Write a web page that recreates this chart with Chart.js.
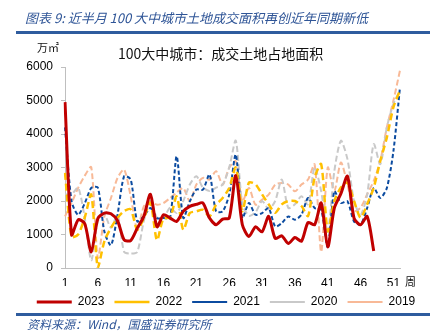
<!DOCTYPE html>
<html>
<head>
<meta charset="utf-8">
<script src="https://cdn.jsdelivr.net/npm/chart.js@4.4.0/dist/chart.umd.min.js"></script>
<style>
  body { margin: 0; background: #fff; }
  #wrap { position: relative; width: 439px; height: 334px; overflow: hidden; font-family: "Noto Sans CJK SC", "Liberation Sans", sans-serif; }
  #plot { position: absolute; left: 0; top: 0; width: 439px; height: 334px; }
  .txt { position: absolute; white-space: nowrap; line-height: 1; }
  .rule { position: absolute; left: 16px; top: 31px; width: 414px; height: 3px; background: #2F5C9E; }
</style>
</head>
<body>
<div id="wrap">
  <div id="plot"><canvas id="chart" width="439" height="334"></canvas></div>
  <div class="rule"></div>
  <div class="rule" style="top:313px;"></div>
  <div class="txt" style="left:25px; top:11px; font-size:13px; font-style:italic; color:#2F5597;">图表 9:  近半月 100 大中城市土地成交面积再创近年同期新低</div>
  <div class="txt" style="left:118px; top:46px; font-size:14px; color:#111;">100大中城市：成交土地占地面积</div>
  <div class="txt" style="left:37px; top:42px; font-size:11px; color:#111;">万㎡</div>
  <div class="txt" style="left:405px; top:276px; font-size:11px; color:#111;">周</div>
  <div class="txt" style="left:27px; top:318px; font-size:12px; font-style:italic; color:#2F5597;">资料来源：Wind，国盛证券研究所</div>
</div>
<script>
const weeks = ['1','2','3','4','5','6','7','8','9','10','11','12','13','14','15','16','17','18','19','20',
  '21','22','23','24','25','26','27','28','29','30','31','32','33','34','35','36','37','38','39','40',
  '41','42','43','44','45','46','47','48','49','50','51','52'];

const s2023 = [4950, 990, 1440, 1330, 480, 1480, 1640, 1620, 1410, 840, 820, 1190, 1540, 2200, 1230, 1590,
  1490, 1390, 1690, 1840, 1900, 1940, 1490, 1290, 1460, 1490, 2760, 1290, 940, 1230, 1080, 1540, 880, 960,
  730, 910, 800, 1360, 1290, 1940, 630, 1790, 2220, 2740, 1490, 1290, 1540, 510];

const s2022 = [2840, 930, 1000, 1500, 2190, 0, 800, 1200, 1500, 1700, 1750, 1140, 1490, 1950, 830, 1490,
  1500, 2140, 1140, 1640, 1690, 1740, 1540, 1890, 2090, 2390, 3000, 1700, 2550, 2500, 2200, 1900, 1650, 1900,
  2000, 2000, 1850, 1550, 2700, 3100, 1100, 2000, 2400, 2550, 2000, 1500, 1900, 2400, 3200, 3900, 4800, 5300];

const s2021 = [4200, 1990, 1590, 1930, 2390, 2400, 1080, 680, 1590, 2740, 2640, 1390, 1540, 1790, 1490, 1490,
  1500, 3340, 1490, 1990, 2340, 2340, 2790, 1690, 1690, 2190, 3390, 1490, 1940, 1590, 1640, 1790, 1240, 1340,
  1540, 1440, 1590, 2090, 1790, 1740, 630, 2290, 1940, 1990, 1390, 1290, 1790, 2390, 2090, 2390, 3490, 5400];

const s2020 = [2200, 2200, 2400, 1500, 230, 1400, 1600, 1200, 1600, 480, 430, 480, 1400, 2000, 1500, 1500,
  1800, 1640, 2000, 2490, 2740, 2400, 2300, 2400, 2490, 3000, 3800, 1900, 1560, 1660, 2000, 1760, 2000, 2640,
  1790, 1900, 2140, 1900, 3000, 2290, 1080, 2890, 3800, 3250, 2000, 1590, 2190, 3700, 3100, 4200, 4900, 5300];

const s2019 = [1540, 1940, 2390, 2750, 3010, 300, 1540, 2090, 2690, 2940, 2140, 1140, 1840, 1990, 1890, 1940,
  2090, 2250, 2390, 1990, 2490, 2690, 2640, 2890, 2490, 2990, 3190, 1990, 2390, 1890, 2040, 2190, 2490, 2540,
  2490, 2290, 2490, 2640, 3090, 480, 3000, 2300, 3150, 2500, 1700, 1800, 2200, 2600, 3200, 4200, 5000, 5900];

const yTicks = [0, 1000, 2000, 3000, 4000, 5000, 6000];

const font = { family: '"Liberation Sans", Arial, sans-serif', size: 12 };
const axisGrey = '#BFBFBF';

function series(label, data, color, width, dash) {
  return {
    label: label,
    data: data,
    borderColor: color,
    backgroundColor: color,
    borderWidth: width,
    borderDash: dash,
    pointRadius: 0,
    fill: false,
    tension: 0.25
  };
}

new Chart(document.getElementById('chart'), {
  type: 'line',
  data: {
    labels: weeks,
    datasets: [
      series('2023', s2023, '#C00000', 3, []),
      series('2022', s2022, '#FFC000', 2.5, [7, 4]),
      series('2021', s2021, '#0B4BA0', 2, [4, 2.5]),
      series('2020', s2020, '#C9C9C9', 2, [6, 3]),
      series('2019', s2019, '#F8B997', 2, [6, 3])
    ]
  },
  options: {
    responsive: false,
    animation: false,
    layout: { padding: { left: 13, right: 0, top: 67, bottom: 16 } },
    plugins: {
      legend: {
        position: 'bottom',
        labels: {
          usePointStyle: true,
          pointStyle: 'line',
          pointStyleWidth: 35,
          boxHeight: 12,
          padding: 10,
          color: '#000',
          font: font
        }
      },
      tooltip: { enabled: false }
    },
    scales: {
      x: {
        offset: false,
        grid: { display: false, drawTicks: false },
        border: { color: axisGrey },
        ticks: {
          autoSkip: false,
          maxRotation: 0,
          padding: 8,
          color: '#000',
          font: font,
          callback: (v, i) => (i % 5 === 0 ? weeks[i] : '')
        },
        afterFit: s => { s.height = 18; }
      },
      y: {
        min: yTicks[0],
        max: yTicks[yTicks.length - 1],
        grid: { drawOnChartArea: false, tickLength: 4, color: axisGrey },
        border: { color: axisGrey },
        ticks: { stepSize: 1000, padding: 8, color: '#000', font: font, callback: v => String(v) },
        afterFit: s => { s.width = 52; }
      },
      spacer: {
        type: 'linear',
        position: 'right',
        grid: { display: false, drawTicks: false },
        border: { display: false },
        ticks: { display: false },
        afterFit: s => { s.width = 39; }
      }
    }
  }
});
</script>
</body>
</html>
